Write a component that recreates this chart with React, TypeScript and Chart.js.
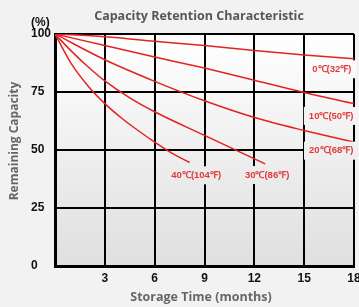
import React, { useEffect, useRef } from 'react';
import { Chart, registerables } from 'chart.js';
Chart.register(...registerables);

const TITLE = 'Capacity Retention Characteristic';
const X_TITLE = 'Storage Time (months)';
const Y_TITLE = 'Remaining Capacity';
const Y_UNIT = '(%)';

const X_MIN = 0;
const X_MAX = 18;
const X_STEP = 3;
const Y_MIN = 0;
const Y_MAX = 100;
const Y_STEP = 25;

// series: months and remaining capacity (%)
const months0 = [0, 3, 6, 9, 12, 15, 18];
const cap0 = [100, 98.8, 96.9, 95, 92.9, 91, 89.3];
const months10 = [0, 3, 6, 9, 12, 15, 18];
const cap10 = [100, 95, 90.1, 85.3, 80.1, 74.8, 70];
const months20 = [0, 3, 6, 9, 12, 15, 18];
const cap20 = [100, 88.9, 79.6, 71.2, 64, 58.4, 53.4];
const months30 = [0, 1, 2, 3, 4.5, 6, 9, 12.65];
const cap30 = [100, 92.5, 85.8, 79.8, 72.5, 66.5, 56.3, 44];
const months40 = [0, 1, 2, 3, 4, 5, 6, 7, 8.1];
const cap40 = [100, 87, 77.5, 70, 63.8, 58.4, 53.4, 48.8, 44.6];

const seriesLabels = ['0℃(32℉)', '10℃(50℉)', '20℃(68℉)', '30℃(86℉)', '40℃(104℉)'];
// label anchors (data coordinates)
const labelMonths = [16.67, 16.62, 16.63, 12.77, 8.5];
const labelCaps = [84.8, 64.7, 49.7, 39.2, 39.1];

const RED = '#e32222';
const LABEL_RED = '#e23a3a';

export default function App() {
  const ref = useRef<HTMLCanvasElement | null>(null);

  useEffect(() => {
    const canvas = ref.current;
    if (!canvas) return;

    const toPts = (xs: number[], ys: number[]) => xs.map((x, i) => ({ x, y: ys[i] }));
    const series = [
      toPts(months0, cap0),
      toPts(months10, cap10),
      toPts(months20, cap20),
      toPts(months30, cap30),
      toPts(months40, cap40),
    ];

    let grad: CanvasGradient | null = null;
    const makeGrad = (chart: any) => {
      const { ctx, chartArea } = chart;
      const g = ctx.createLinearGradient(0, chartArea.top, 0, chartArea.bottom);
      g.addColorStop(0, '#ffffff');
      g.addColorStop(1, '#dfdfdf');
      return g;
    };

    const deco = {
      id: 'deco',
      beforeDraw(chart: any) {
        const { ctx, chartArea, width, height } = chart;
        ctx.save();
        ctx.fillStyle = '#f1f2f1';
        ctx.fillRect(0, 0, width, height);
        grad = makeGrad(chart);
        ctx.fillStyle = grad;
        ctx.fillRect(chartArea.left, chartArea.top, chartArea.right - chartArea.left, chartArea.bottom - chartArea.top);
        ctx.restore();
      },
      afterDatasetsDraw(chart: any) {
        const { ctx, scales } = chart;
        ctx.save();
        // series labels
        ctx.font = 'bold 9.5px "Liberation Sans", Arial, sans-serif';
        ctx.textAlign = 'center';
        ctx.textBaseline = 'middle';
        seriesLabels.forEach((t, i) => {
          const px = scales.x.getPixelForValue(labelMonths[i]);
          const py = scales.y.getPixelForValue(labelCaps[i]);
          const w = ctx.measureText(t).width;
          ctx.fillStyle = grad || '#fff';
          ctx.fillRect(px - w / 2 - 5, py - 9, w + 10, 18);
          ctx.fillStyle = LABEL_RED;
          ctx.fillText(t, px, py);
        });
        // chart title
        ctx.fillStyle = '#575757';
        ctx.font = 'bold 12.5px "Open Sans", sans-serif';
        ctx.fillText(TITLE, 199, 16);
        // axis titles
        ctx.fillStyle = '#666666';
        ctx.font = 'bold 12.5px "Open Sans", sans-serif';
        ctx.fillText(X_TITLE, 201, 297);
        ctx.save();
        ctx.translate(15, 141);
        ctx.rotate(-Math.PI / 2);
        ctx.font = 'bold 12px "Open Sans", sans-serif';
        ctx.fillText(Y_TITLE, 0, 0);
        ctx.restore();
        // unit
        ctx.fillStyle = '#111';
        ctx.font = 'bold 12px "Liberation Sans", Arial, sans-serif';
        ctx.textAlign = 'left';
        ctx.fillText(Y_UNIT, 31, 22.5);
        ctx.restore();
      },
    };

    const chart = new Chart(canvas, {
      type: 'scatter',
      data: {
        datasets: series.map((pts, i) => ({
          label: seriesLabels[i],
          data: pts,
          showLine: true,
          borderColor: RED,
          borderWidth: 1.5,
          pointRadius: 0,
          pointHoverRadius: 0,
          fill: false,
          cubicInterpolationMode: 'monotone' as const,
        })),
      },
      options: {
        animation: false,
        responsive: false,
        maintainAspectRatio: false,
        events: [],
        layout: { padding: { left: 31, right: 5, top: 34, bottom: 0 } },
        plugins: {
          legend: { display: false },
          title: { display: false },
          tooltip: { enabled: false },
        },
        scales: {
          x: {
            type: 'linear',
            min: X_MIN,
            max: X_MAX,
            afterFit: (s: any) => {
              s.height = 41;
              s.paddingLeft = 0;
              s.paddingRight = 0;
            },
            ticks: {
              stepSize: X_STEP,
              color: '#111',
              padding: 5,
              font: { family: '"Liberation Sans", Arial, sans-serif', size: 12, weight: 'bold' },
              callback: (v: any) => (v === 0 ? '' : String(v)),
              maxRotation: 0,
            },
            grid: { color: '#000', lineWidth: 2, drawTicks: false },
            border: { color: '#000', width: 3 },
          },
          y: {
            type: 'linear',
            min: Y_MIN,
            max: Y_MAX,
            afterFit: (s: any) => {
              s.width = 24;
              s.paddingTop = 0;
              s.paddingBottom = 0;
            },
            ticks: {
              stepSize: Y_STEP,
              color: '#111',
              padding: 4,
              crossAlign: 'far',
              font: { family: '"Liberation Sans", Arial, sans-serif', size: 12, weight: 'bold' },
            },
            grid: { color: '#000', lineWidth: 2, drawTicks: false },
            border: { color: '#000', width: 3 },
          },
        },
      },
      plugins: [deco],
    });

    return () => chart.destroy();
  }, []);

  return (
    <div style={{ position: 'fixed', left: 0, top: 0, width: 359, height: 307, overflow: 'hidden', background: '#f1f2f1' }}>
      <canvas ref={ref} width={359} height={307} style={{ display: 'block', width: 359, height: 307 }} />
    </div>
  );
}
